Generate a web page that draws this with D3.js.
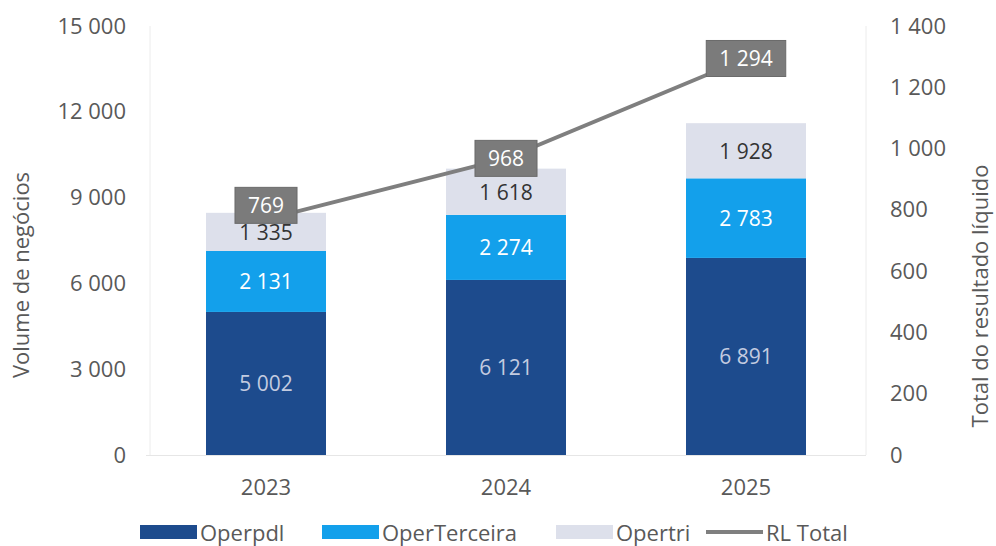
<!DOCTYPE html>
<html>
<head>
<meta charset="utf-8">
<script src="https://cdn.jsdelivr.net/npm/d3@7"></script>
<style>
  html, body { margin: 0; padding: 0; background: #ffffff; }
  svg { display: block; }
  text { font-family: "Open Sans", Lato, sans-serif; }
</style>
</head>
<body>
<svg id="chart" width="996" height="546"></svg>
<script>
// Categories and series
const years = ["2023", "2024", "2025"];
const operpdl = [5002, 6121, 6891];
const operTerceira = [2131, 2274, 2783];
const opertri = [1335, 1618, 1928];
const rlTotal = [769, 968, 1294];

const leftTicks = [0, 3000, 6000, 9000, 12000, 15000];
const rightTicks = [0, 200, 400, 600, 800, 1000, 1200, 1400];

const seriesNames = ["Operpdl", "OperTerceira", "Opertri"];
const lineName = "RL Total";
const leftTitle = "Volume de negócios";
const rightTitle = "Total do resultado líquido";

const colors = { Operpdl: "#1d4b8d", OperTerceira: "#13a0eb", Opertri: "#dde0eb" };
const labelColors = { Operpdl: "#c3cbe0", OperTerceira: "#ffffff", Opertri: "#333333" };
const lineColor = "#7f7f7f";
const textColor = "#595959";
const axisFont = "22px";
const labelFont = "21px";

const fmt = d3.formatLocale({ decimal: ",", thousands: " ", grouping: [3], currency: ["", ""] }).format(",d");

const svg = d3.select("#chart");
const plot = { left: 146, right: 866, top: 26, bottom: 455 };

const x = d3.scaleBand().domain(years).range([plot.left, plot.right])
  .paddingInner(0.5).paddingOuter(0.25);
const yL = d3.scaleLinear().domain([0, 15000]).range([plot.bottom, plot.top]);
const yR = d3.scaleLinear().domain([0, 1400]).range([plot.bottom, plot.top]);

// faint frame lines of the plot area
svg.append("line").attr("x1", plot.left + 4).attr("x2", plot.left + 4)
  .attr("y1", plot.top).attr("y2", plot.bottom).attr("stroke", "#ececec").attr("stroke-width", 1);
svg.append("line").attr("x1", plot.right).attr("x2", plot.right)
  .attr("y1", plot.top).attr("y2", plot.bottom).attr("stroke", "#ececec").attr("stroke-width", 1);
svg.append("line").attr("x1", plot.left).attr("x2", plot.right)
  .attr("y1", plot.bottom + 0.5).attr("y2", plot.bottom + 0.5).attr("stroke", "#e6e6e6").attr("stroke-width", 1);

function styleAxisText(sel) {
  sel.selectAll("text").attr("fill", textColor).style("font-size", axisFont)
    .style("font-family", "'Open Sans', sans-serif");
}

// Left axis
const axL = svg.append("g").attr("transform", `translate(${plot.left - 20},0)`)
  .call(d3.axisLeft(yL).tickValues(leftTicks).tickFormat(fmt).tickSize(0).tickPadding(0));
axL.select(".domain").remove();
styleAxisText(axL);

// Right axis
const axR = svg.append("g").attr("transform", `translate(${plot.right + 24},0)`)
  .call(d3.axisRight(yR).tickValues(rightTicks).tickFormat(fmt).tickSize(0).tickPadding(0));
axR.select(".domain").remove();
styleAxisText(axR);

// Bottom axis labels
const axB = svg.append("g").attr("transform", `translate(0,${plot.bottom + 20})`)
  .call(d3.axisBottom(x).tickSize(0).tickPadding(0));
axB.select(".domain").remove();
styleAxisText(axB);
axB.selectAll("text").attr("dy", "0.9em");

// Axis titles
svg.append("text").attr("transform", `translate(20,275) rotate(-90)`)
  .attr("text-anchor", "middle").attr("dominant-baseline", "central")
  .attr("fill", textColor).style("font-size", axisFont)
  .text(leftTitle);
svg.append("text").attr("transform", `translate(979,296) rotate(-90)`)
  .attr("text-anchor", "middle").attr("dominant-baseline", "central")
  .attr("fill", textColor).style("font-size", axisFont)
  .text(rightTitle);

// Stacked bars
const rows = years.map((yr, i) => ({ year: yr, Operpdl: operpdl[i], OperTerceira: operTerceira[i], Opertri: opertri[i] }));
const stacked = d3.stack().keys(seriesNames)(rows);

const layers = svg.append("g").selectAll("g").data(stacked).join("g")
  .attr("fill", d => colors[d.key]);
layers.selectAll("rect").data(d => d.map(v => ({ key: d.key, v }))).join("rect")
  .attr("x", d => x(d.v.data.year))
  .attr("width", x.bandwidth())
  .attr("y", d => yL(d.v[1]))
  .attr("height", d => yL(d.v[0]) - yL(d.v[1]));

// Bar value labels
const labelG = svg.append("g");
stacked.forEach(layer => {
  layer.forEach(v => {
    labelG.append("text")
      .attr("x", x(v.data.year) + x.bandwidth() / 2)
      .attr("y", (yL(v[0]) + yL(v[1])) / 2)
      .attr("text-anchor", "middle").attr("dominant-baseline", "central")
      .attr("fill", labelColors[layer.key]).style("font-size", labelFont)
      .text(fmt(v.data[layer.key]));
  });
});

// RL Total line
const linePts = years.map((yr, i) => [x(yr) + x.bandwidth() / 2, yR(rlTotal[i])]);
svg.append("path").attr("d", d3.line()(linePts))
  .attr("fill", "none").attr("stroke", lineColor).attr("stroke-width", 4);

// Line value labels in grey boxes (first one lifted above the bar top)
const labelLift = [14, 0, 0];
rlTotal.forEach((val, i) => {
  const cx = linePts[i][0], cy = linePts[i][1] - labelLift[i];
  const g = svg.append("g");
  const t = g.append("text").attr("x", cx).attr("y", cy)
    .attr("text-anchor", "middle").attr("dominant-baseline", "central")
    .attr("fill", "#ffffff").style("font-size", labelFont).text(fmt(val));
  const bb = t.node().getBBox();
  g.insert("rect", "text")
    .attr("x", cx - bb.width / 2 - 13).attr("width", bb.width + 26)
    .attr("y", cy - 18).attr("height", 36)
    .attr("fill", "#7b7b7b").attr("stroke", "#6a6a6a").attr("stroke-width", 1);
});

// Legend
const legendY = 532;
const legendItems = [
  { name: seriesNames[0], x: 140, type: "rect" },
  { name: seriesNames[1], x: 322, type: "rect" },
  { name: seriesNames[2], x: 556, type: "rect" },
  { name: lineName, x: 706, type: "line" }
];
const lg = svg.append("g");
legendItems.forEach(it => {
  if (it.type === "rect") {
    lg.append("rect").attr("x", it.x).attr("y", legendY - 7).attr("width", 57).attr("height", 14)
      .attr("fill", colors[it.name]);
  } else {
    lg.append("line").attr("x1", it.x).attr("x2", it.x + 57).attr("y1", legendY).attr("y2", legendY)
      .attr("stroke", lineColor).attr("stroke-width", 4);
  }
  lg.append("text").attr("x", it.x + 60).attr("y", legendY)
    .attr("dominant-baseline", "central").attr("fill", textColor).style("font-size", axisFont)
    .text(it.name);
});
</script>
</body>
</html>
